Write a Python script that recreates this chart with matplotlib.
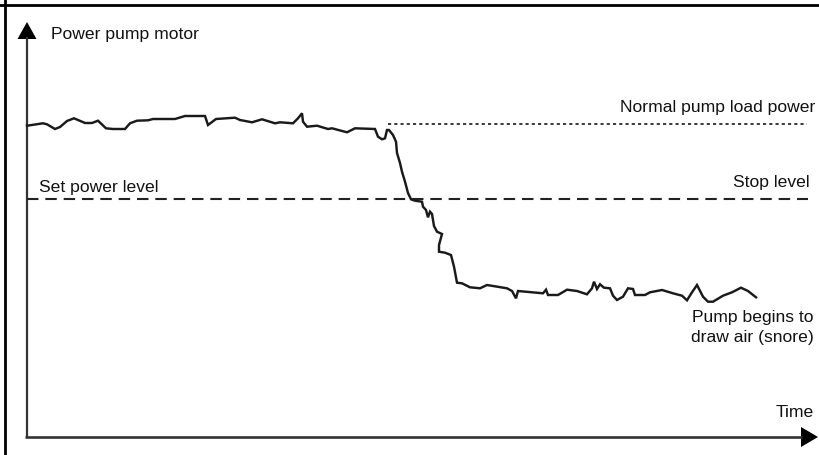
import matplotlib.pyplot as plt
from matplotlib.lines import Line2D

# measured trace of motor power (time, power) - arbitrary units above the axes origin
time = [0, 16, 20, 28, 33, 40, 47, 58, 65, 71, 79, 86, 98, 103, 110, 121, 126, 148,
        158, 178, 181, 189, 208, 213, 225, 235, 248, 253, 266, 271, 275, 276, 280, 290,
        301, 305, 320, 328, 348, 351, 355, 358, 360, 362, 366, 369, 370, 373, 375, 378,
        381, 384, 388, 395, 396, 399, 401, 403, 405, 407, 410, 415, 412, 412, 418, 424,
        427, 430, 435, 443, 453, 460, 480, 485, 489, 491, 516, 519, 521, 531, 540, 550,
        560, 565, 567, 570, 573, 577, 583, 586, 590, 596, 601, 606, 608, 618, 623, 635,
        646, 655, 660, 665, 670, 676, 681, 686, 696, 705, 714, 721, 729]
power = [311.3, 313.7, 312.7, 308, 310, 316, 318.7, 314, 314, 316.3, 308.7, 308, 308,
         313.7, 316.3, 316.7, 318, 318, 321, 321, 312, 318, 319.3, 317, 314.7, 317.7,
         313.7, 314.7, 313.7, 318.7, 323.7, 315.3, 310.3, 311.3, 308, 308.7, 304.7,
         308.7, 308, 300.3, 297.7, 298.7, 307, 307, 302, 295.3, 284, 274, 265.3, 255.3,
         244, 237.7, 236.3, 235.3, 230.3, 227, 219.7, 225.3, 223, 211, 205.3, 203, 192,
         185.3, 184.3, 182, 170.3, 154.3, 153.7, 149.7, 148.7, 152, 148.7, 146, 138.7,
         146, 143.7, 147.3, 142, 142, 147.3, 146, 142.7, 148.7, 155.3, 148, 152.7, 149.3,
         148.7, 141.3, 137, 140.3, 148.7, 148, 142, 142, 144.7, 147, 143.7, 141.3, 136.7,
         144.7, 152, 140.3, 135.3, 135.3, 141.3, 144.7, 149.3, 146, 139.7]

normal_level = 313    # normal pump load power
stop_level = 238      # set power / stop level
normal_start = 361

fig = plt.figure(figsize=(8.2, 4.55), dpi=100)
ax = fig.add_axes([0, 0, 1, 1])
ax.set_xlim(-27, 793)
ax.set_ylim(-18, 437)
ax.axis('off')

# outer frame (top and left edges only visible)
fig.add_artist(Line2D([0, 1], [1 - 5 / 455, 1 - 5 / 455], color='black', lw=2.0))
fig.add_artist(Line2D([5 / 820, 5 / 820], [0, 1], color='black', lw=2.0))

# axes with arrow heads
ax.plot([0, 0], [0, 400], color='#333333', lw=1.6, solid_capstyle='butt')
ax.plot([-2, 775], [0, 0], color='#333333', lw=1.9, solid_capstyle='butt')
ax.fill([-9.5, 9.5, 0], [398, 398, 415], color='black', lw=0)
ax.fill([774, 774, 791], [-10, 10, 0], color='black', lw=0)

# reference levels
ax.plot([0, 781], [stop_level, stop_level], color='#222222', lw=1.5,
        dashes=(5.5, 3.3))
ax.plot([normal_start, 780], [normal_level, normal_level], color='#222222', lw=1.25,
        dashes=(1.8, 1.8))

# power trace
ax.plot(time, power, color='#1a1a1a', lw=1.75, solid_joinstyle='miter')

fs = 12.6
fam = ['Liberation Sans', 'DejaVu Sans']
ax.text(24, 398, 'Power pump motor', fontsize=fs, family=fam, va='baseline', color='#111111')
ax.text(12, 245.3, 'Set power level', fontsize=fs, family=fam, va='baseline', color='#111111')
ax.text(788, 325.3, 'Normal pump load power', fontsize=fs, family=fam, ha='right',
        va='baseline', color='#111111')
ax.text(783, 249.7, 'Stop level', fontsize=fs, family=fam, ha='right', va='baseline',
        color='#111111')
ax.text(787, 114.7, 'Pump begins to', fontsize=fs, family=fam, ha='right', va='baseline',
        color='#111111')
ax.text(787, 95.3, 'draw air (snore)', fontsize=fs, family=fam, ha='right', va='baseline',
        color='#111111')
ax.text(787, 20.3, 'Time', fontsize=fs, family=fam, ha='right', va='baseline', color='#111111')

fig.savefig('out.png', dpi=100)
plt.close()
